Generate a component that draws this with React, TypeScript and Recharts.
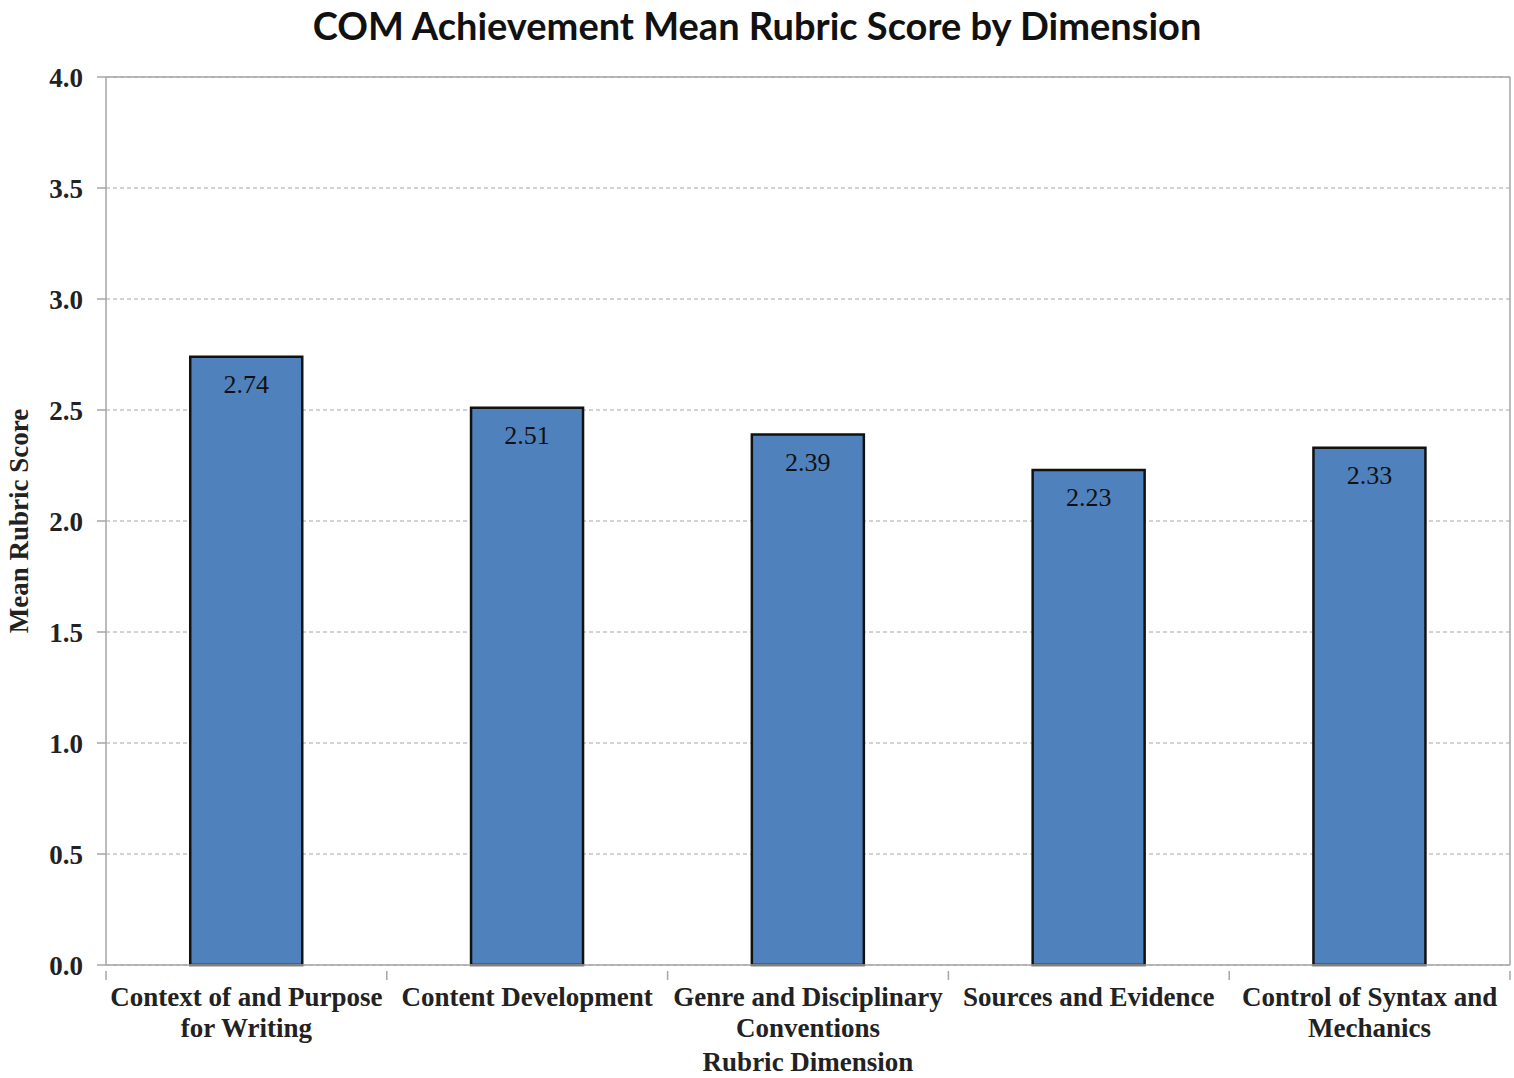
import React from 'react';
import { BarChart, Bar, XAxis, YAxis, CartesianGrid, LabelList, ReferenceLine } from 'recharts';

const dimensions = [
  'Context of and Purpose|for Writing',
  'Content Development',
  'Genre and Disciplinary|Conventions',
  'Sources and Evidence',
  'Control of Syntax and|Mechanics',
];
const meanScores = [2.74, 2.51, 2.39, 2.23, 2.33];
const yTicks = [0, 0.5, 1, 1.5, 2, 2.5, 3, 3.5, 4];

const data = dimensions.map((name, i) => ({ name, score: meanScores[i] }));

const W = 1514;
const H = 1078;
const PLOT_LEFT = 106;
const PLOT_RIGHT = 4;
const BAND = (W - PLOT_LEFT - PLOT_RIGHT) / dimensions.length;

const serif = '"Liberation Serif", "Times New Roman", serif';

function CategoryTick(props: any) {
  const { x, y, payload, index } = props;
  const lines = String(payload.value).split('|');
  const half = BAND / 2;
  return (
    <g>
      <line x1={x - half} x2={x - half} y1={y - 2} y2={y + 7} stroke="#a6a6a6" strokeWidth={1.5} />
      {index === dimensions.length - 1 && (
        <line x1={x + half} x2={x + half} y1={y - 2} y2={y + 7} stroke="#a6a6a6" strokeWidth={1.5} />
      )}
      <text x={x} y={y} textAnchor="middle" fontFamily={serif} fontWeight="bold" fontSize={27} fill="#222">
        {lines.map((l, i) => (
          <tspan key={i} x={x} dy={i === 0 ? 33 : 31}>{l}</tspan>
        ))}
      </text>
    </g>
  );
}

export default function App() {
  return (
    <div style={{ position: 'absolute', left: 0, top: 0, width: W, height: H, background: '#fff' }}>
      <div
        style={{
          position: 'absolute',
          top: 2,
          left: 0,
          width: W,
          textAlign: 'center',
          fontFamily: 'Lato, "Open Sans", sans-serif',
          fontWeight: 'bold',
          fontSize: 38,
          color: '#111',
        }}
      >
        COM Achievement Mean Rubric Score by Dimension
      </div>
      <BarChart
        width={W}
        height={H}
        data={data}
        margin={{ top: 77, right: 0, left: 0, bottom: 0 }}
        barCategoryGap="30%"
      >
        <CartesianGrid vertical={false} stroke="#a6a6a6" strokeDasharray="4 3" />
        <ReferenceLine y={4} stroke="#a6a6a6" strokeWidth={1.5} />
        <XAxis
          dataKey="name"
          interval={0}
          tick={<CategoryTick />}
          tickLine={false}
          axisLine={{ stroke: '#a6a6a6', strokeWidth: 1.5 }}
          label={{
            value: 'Rubric Dimension',
            position: 'insideBottom',
            offset: 7,
            style: { fontFamily: serif, fontWeight: 'bold', fontSize: 27, fill: '#222' },
          }}
          height={113}
        />
        <YAxis
          width={PLOT_LEFT}
          domain={[0, 4]}
          ticks={yTicks}
          interval={0}
          tickFormatter={(v: number) => v.toFixed(1)}
          tick={{ fontFamily: serif, fontWeight: 'bold', fontSize: 27, fill: '#222' }}
          tickSize={9}
          tickMargin={14}
          tickLine={{ stroke: '#a6a6a6', strokeWidth: 1.5 }}
          axisLine={{ stroke: '#a6a6a6', strokeWidth: 1.5 }}
          label={{
            value: 'Mean Rubric Score',
            angle: -90,
            position: 'insideLeft',
            offset: 18,
            style: { textAnchor: 'middle', fontFamily: serif, fontWeight: 'bold', fontSize: 27, fill: '#222' },
          }}
        />
        <YAxis
          yAxisId="right"
          orientation="right"
          width={PLOT_RIGHT}
          domain={[0, 4]}
          tick={false}
          tickLine={false}
          axisLine={{ stroke: '#a6a6a6', strokeWidth: 1.5 }}
        />
        <Bar dataKey="score" fill="#4f81bd" stroke="#111" strokeWidth={2.5} isAnimationActive={false}>
          <LabelList
            dataKey="score"
            position="insideTop"
            offset={18}
            formatter={(v: any) => Number(v).toFixed(2)}
            style={{ fontFamily: serif, fontSize: 26, fill: '#111' }}
          />
        </Bar>
      </BarChart>
    </div>
  );
}
